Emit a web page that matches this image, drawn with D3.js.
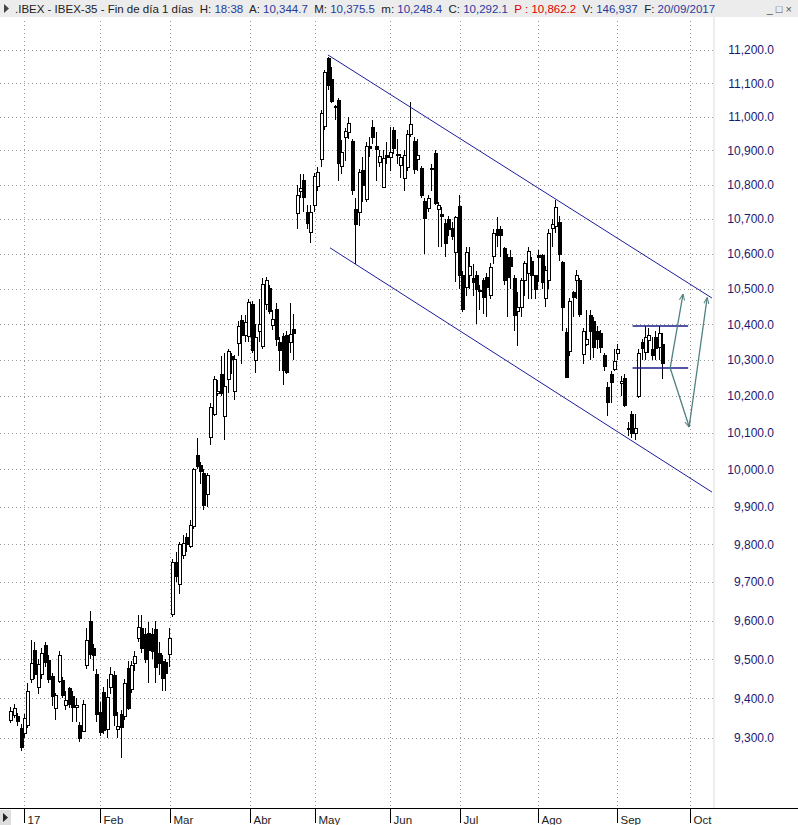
<!DOCTYPE html>
<html><head><meta charset="utf-8">
<script src="https://cdn.jsdelivr.net/npm/d3@7"></script>
<style>body{margin:0;background:#fff;font-family:Arial,"Liberation Sans",sans-serif}</style>
</head><body><svg id="c" width="798" height="825"></svg>
<script>
// [open, high, low, close] per trading day
const candles = [
[9346,9378,9338,9368],[9358,9385,9350,9376],[9356,9363,9330,9344],[9326,9335,9268,9278],[9312,9360,9300,9350],
[9332,9440,9325,9419],[9450,9550,9440,9490],[9523,9545,9450,9462],[9430,9500,9410,9487],[9462,9530,9450,9515],
[9536,9545,9480,9492],[9497,9510,9440,9449],[9457,9465,9380,9406],[9376,9415,9345,9408],[9445,9522,9440,9510],
[9447,9455,9400,9409],[9383,9420,9370,9397],[9426,9430,9375,9385],[9406,9420,9340,9378],[9378,9400,9340,9384],
[9333,9340,9290,9301],[9318,9395,9315,9387],[9485,9580,9475,9549],[9600,9625,9500,9513],[9530,9540,9470,9511],
[9462,9475,9340,9361],[9365,9390,9305,9315],[9416,9430,9310,9320],[9322,9450,9300,9404],[9430,9480,9410,9462],
[9459,9470,9330,9357],[9323,9365,9300,9331],[9361,9370,9250,9327],[9355,9450,9345,9440],[9478,9495,9370,9376],
[9423,9495,9415,9484],[9491,9520,9470,9508],[9554,9615,9545,9583],[9581,9615,9515,9530],[9566,9580,9490,9500],
[9568,9595,9440,9523],[9564,9580,9500,9521],[9577,9600,9440,9479],[9517,9545,9460,9491],[9496,9510,9420,9453],
[9493,9500,9420,9466],[9513,9580,9480,9554],[9616,9760,9610,9752],[9752,9780,9700,9717],[9694,9805,9670,9800],
[9772,9825,9760,9804],[9818,9830,9780,9800],[9795,9865,9790,9852],[9849,10005,9840,10000],[10040,10085,10000,10009],
[10011,10020,9960,9996],[9989,10000,9890,9904],[9935,9990,9900,9984],[10088,10180,10065,10169],[10151,10255,10145,10246],
[10210,10245,10200,10214],[10260,10310,10200,10209],[10146,10320,10080,10228],[10246,10330,10210,10325],[10312,10320,10260,10303],
[10214,10315,10190,10303],[10348,10410,10310,10395],[10412,10425,10290,10370],[10370,10425,10350,10405],[10367,10470,10350,10462],
[10456,10465,10320,10327],[10300,10400,10265,10363],[10382,10470,10350,10402],[10338,10530,10330,10513],[10458,10535,10440,10526],
[10503,10510,10430,10438],[10398,10440,10385,10416],[10442,10460,10340,10358],[10351,10365,10270,10327],[10367,10375,10230,10271],
[10370,10380,10260,10267],[10350,10460,10320,10374],[10388,10430,10300,10376],[10717,10800,10670,10769],[10780,10830,10760,10790],
[10814,10830,10720,10765],[10719,10740,10670,10688],[10662,10740,10630,10719],[10740,10835,10720,10824],[10797,10850,10780,10838],
[10875,11020,10850,11012],[10972,11140,10960,11135],[11175,11180,11080,11095],[11113,11150,11040,11047],[11032,11035,10990,11030],
[11050,11055,10810,10863],[10855,10930,10830,10897],[10940,10965,10870,10958],[10954,11000,10935,10982],[10927,10935,10770,10785],
[10729,10760,10570,10686],[10719,10845,10680,10837],[10842,10880,10750,10800],[10757,10925,10750,10913],[10913,10940,10880,10906],
[10970,10990,10920,10939],[10913,10955,10810,10903],[10866,10900,10850,10883],[10793,10900,10790,10878],[10888,10925,10860,10881],
[10881,10970,10840,10895],[10960,10970,10890,10907],[10891,10935,10860,10886],[10858,10890,10820,10880],[10820,10900,10780,10888],
[10850,10960,10840,10950],[10950,11045,10940,10977],[10927,10940,10830,10845],[10876,10935,10840,10886],[10849,10855,10760,10770],
[10752,10760,10600,10702],[10733,10770,10720,10762],[10845,10860,10780,10848],[10892,10900,10740,10747],[10728,10750,10620,10742],
[10715,10735,10620,10710],[10688,10700,10590,10630],[10700,10710,10650,10670],[10675,10690,10640,10650],[10605,10710,10520,10705],
[10737,10770,10500,10540],[10540,10550,10435,10443],[10505,10620,10480,10605],[10540,10620,10500,10565],[10530,10570,10480,10520],
[10540,10550,10400,10500],[10498,10510,10440,10494],[10525,10530,10430,10478],[10535,10545,10420,10505],[10482,10575,10470,10562],
[10594,10670,10570,10660],[10670,10705,10620,10655],[10670,10680,10590,10655],[10617,10620,10510,10525],[10592,10600,10420,10535],
[10590,10610,10500,10565],[10530,10540,10380,10425],[10436,10490,10340,10450],[10450,10530,10420,10525],[10525,10580,10480,10575],
[10545,10620,10470,10607],[10580,10590,10470,10540],[10540,10540,10470,10500],[10597,10610,10520,10590],[10596,10600,10500,10520],
[10474,10565,10450,10555],[10525,10670,10500,10660],[10675,10700,10620,10685],[10680,10755,10660,10735],[10690,10710,10580,10598],
[10577,10580,10380,10450],[10378,10390,10250,10253],[10325,10475,10310,10465],[10490,10495,10420,10476],[10525,10555,10470,10540],
[10525,10530,10420,10430],[10318,10390,10290,10380],[10345,10440,10340,10358],[10425,10440,10300,10380],[10410,10420,10305,10335],
[10380,10395,10330,10360],[10375,10385,10320,10335],[10315,10320,10270,10283],[10225,10240,10145,10185],[10262,10270,10180,10240],
[10275,10330,10270,10298],[10320,10345,10300,10330],[10235,10255,10200,10242],[10250,10260,10170,10175],[10113,10130,10090,10109],
[10150,10160,10085,10100],[10098,10150,10080,10112],[10200,10330,10195,10320],[10350,10360,10300,10333],[10323,10395,10300,10365],
[10356,10390,10320,10370],[10330,10365,10300,10315],[10365,10380,10300,10333],[10337,10395,10300,10375],[10344.7,10375.5,10248.4,10292.1]
];
const monthLabels = ["17","Feb","Mar","Abr","May","Jun","Jul","Ago","Sep","Oct"];
const monthPos = [4,26,46.3,69.5,88.3,110,130.4,153,175.9,197];
const yTicks = [9300,9400,9500,9600,9700,9800,9900,10000,10100,10200,10300,10400,10500,10600,10700,10800,10900,11000,11100,11200];
const channelUpper = [[92.1,11185],[203.4,10474]];
const channelLower = [[92.7,10617],[203.4,9939]];
const rangeLines = [[[180.4,10395],[196.5,10395]],[[180.4,10278],[196.5,10278]]];
const arrows = [[[191.3,10278],[195.0,10484]],[[191.3,10278],[196.8,10116]],[[196.8,10116],[202.0,10474]]];

const svg = d3.select("#c");
const x = d3.scaleLinear().domain([0,1]).range([10.2,13.65]);
const y = d3.scaleLog().domain([9300,11200]).range([738,50]);
const plotL=0, plotR=714, plotT=17, plotB=808;

svg.append("rect").attr("x",0).attr("y",0).attr("width",798).attr("height",17).attr("fill","#ececec");
svg.append("path").attr("d","M4,4 L9,8.5 L4,13Z").attr("fill","#444");
const ht = svg.append("text").attr("x",15).attr("y",13).attr("font-size",11.5).attr("fill","#222");
const parts=[[".IBEX - IBEX-35 - Fin de día 1 días  H: ","#222"],["18:38","#2a3a9a"],["  A: ","#222"],["10,344.7","#2a3a9a"],["  M: ","#222"],["10,375.5","#2a3a9a"],["  m: ","#222"],["10,248.4","#2a3a9a"],["  C: ","#222"],["10,292.1","#2a3a9a"],["  P : ","#d00"],["10,862.2","#d00"],["  V: ","#222"],["146,937","#2a3a9a"],["  F: ","#222"],["20/09/2017","#2a3a9a"]];
parts.forEach(p=>ht.append("tspan").attr("fill",p[1]).attr("xml:space","preserve").text(p[0]));
svg.append("text").attr("x",792).attr("y",13).attr("text-anchor","end").attr("font-size",11).attr("fill","#555").text("_ □ ×");

const g = svg.append("g");
yTicks.forEach(v=>g.append("line").attr("x1",plotL).attr("x2",plotR).attr("y1",Math.round(y(v))+0.5).attr("y2",Math.round(y(v))+0.5).attr("stroke","#999").attr("stroke-dasharray","1,3"));
monthPos.forEach(m=>g.append("line").attr("x1",Math.round(x(m))+0.5).attr("x2",Math.round(x(m))+0.5).attr("y1",plotT+4).attr("y2",plotB).attr("stroke","#999").attr("stroke-dasharray","1,3"));

const ax = svg.append("g").attr("transform","translate(777,0)").call(d3.axisLeft(y).tickValues(yTicks).tickSize(0).tickFormat(d=>d3.format(",.1f")(d)));
ax.select(".domain").remove();
ax.selectAll("text").attr("font-size",12).attr("fill","#1a1a70").attr("font-family","Arial,'Liberation Sans',sans-serif");
svg.append("line").attr("x1",plotR).attr("x2",plotR).attr("y1",plotT).attr("y2",plotB).attr("stroke","#ddd");

svg.append("rect").attr("x",0).attr("y",plotB).attr("width",798).attr("height",17).attr("fill","#fff");
svg.append("line").attr("x1",0).attr("x2",798).attr("y1",plotB+0.5).attr("y2",plotB+0.5).attr("stroke","#000");
svg.append("rect").attr("x",0).attr("y",plotB+2).attr("width",11).attr("height",15).attr("fill","#ddd");
svg.append("path").attr("d",`M3,${plotB+5} L8,${plotB+9.5} L3,${plotB+14}Z`).attr("fill","#222");
monthPos.forEach((m,i)=>{
  const mx=Math.round(x(m))+0.5;
  svg.append("line").attr("x1",mx).attr("x2",mx).attr("y1",plotB).attr("y2",plotB+15).attr("stroke","#000");
  svg.append("text").attr("x",mx+3).attr("y",plotB+16).attr("font-size",11.5).attr("fill","#222").text(monthLabels[i]);
});

const cg = svg.append("g").attr("shape-rendering","crispEdges");
candles.forEach((c,i)=>{
  const [o,h,l,cl]=c, cx=Math.round(x(i)), up=cl>=o;
  cg.append("line").attr("x1",cx+0.5).attr("x2",cx+0.5).attr("y1",Math.round(y(h))).attr("y2",Math.round(y(l))).attr("stroke","#000").attr("stroke-width",1);
  const top=Math.round(y(Math.max(o,cl))), bot=Math.round(y(Math.min(o,cl)));
  if(up) cg.append("rect").attr("x",cx-1+0.5).attr("y",top+0.5).attr("width",3).attr("height",Math.max(1,bot-top)).attr("fill","#fff").attr("stroke","#000").attr("stroke-width",1);
  else cg.append("rect").attr("x",cx-1).attr("y",top).attr("width",4).attr("height",Math.max(2,bot-top+1)).attr("fill","#000");
});

const ln = d3.line().x(d=>x(d[0])).y(d=>y(d[1]));
[channelUpper,channelLower].forEach(s=>svg.append("path").attr("d",ln(s)).attr("stroke","#1c1c9c").attr("fill","none").attr("stroke-width",1));
rangeLines.forEach(s=>svg.append("path").attr("d",ln(s)).attr("stroke","#1c1c8a").attr("fill","none").attr("stroke-width",1.6));
svg.append("defs").append("marker").attr("id","ah").attr("viewBox","0 0 10 10").attr("refX",9).attr("refY",5)
  .attr("markerWidth",5).attr("markerHeight",5).attr("orient","auto").append("path").attr("d","M0,1 L10,5 L0,9").attr("fill","none").attr("stroke","#4f7f7f").attr("stroke-width",1.5);
arrows.forEach(s=>svg.append("path").attr("d",ln(s)).attr("stroke","#4f7f7f").attr("fill","none").attr("stroke-width",1.3).attr("marker-end","url(#ah)"));
</script></body></html>
